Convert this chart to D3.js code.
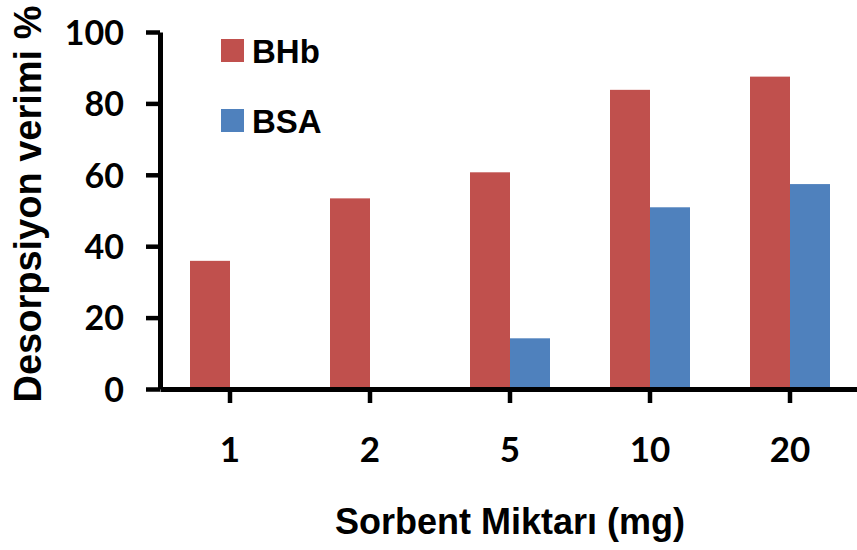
<!DOCTYPE html>
<html>
<head>
<meta charset="utf-8">
<script src="https://cdn.jsdelivr.net/npm/d3@7"></script>
<style>
  html, body { margin: 0; padding: 0; background: #fff; }
  svg { display: block; }
</style>
</head>
<body>
<svg id="chart" width="857" height="550"></svg>
<script>
// Sorbent amounts (mg) on the x axis
const categories = ["1", "2", "5", "10", "20"];
// Desorption yield (%) for each protein
const seriesNames = ["BHb", "BSA"];
const bhbValues = [35.9, 53.4, 60.7, 83.8, 87.5];
const bsaValues = [0, 0, 14.2, 50.9, 57.4];
const yTicks = [0, 20, 40, 60, 80, 100];
const colors = { BHb: "#C0504D", BSA: "#4F81BD" };

const svg = d3.select("#chart");

const x0 = d3.scaleBand()
  .domain(categories)
  .range([160, 860])
  .paddingInner(0.4286)
  .paddingOuter(0.2143);

const x1 = d3.scaleBand()
  .domain(seriesNames)
  .range([0, x0.bandwidth()]);

const y = d3.scaleLinear().domain([0, 100]).range([389, 32]);

const rows = categories.map((c, i) => ({
  cat: c,
  values: [
    { key: "BHb", value: bhbValues[i] },
    { key: "BSA", value: bsaValues[i] }
  ]
}));

// Bars
const groups = svg.append("g")
  .selectAll("g")
  .data(rows)
  .join("g")
  .attr("transform", d => `translate(${x0(d.cat)},0)`);

groups.selectAll("rect")
  .data(d => d.values)
  .join("rect")
  .attr("x", d => x1(d.key))
  .attr("width", x1.bandwidth())
  .attr("y", d => y(d.value))
  .attr("height", d => y(0) - y(d.value))
  .attr("fill", d => colors[d.key]);

// Y axis
const yAxis = svg.append("g")
  .attr("transform", "translate(160,0)")
  .call(d3.axisLeft(y).tickValues(yTicks).tickSize(14).tickSizeOuter(0).tickPadding(22));
yAxis.select(".domain").attr("stroke", "#000").attr("stroke-width", 5);
yAxis.selectAll(".tick line").attr("stroke", "#000").attr("stroke-width", 4.5);
yAxis.selectAll(".tick text")
  .attr("font-family", "Lato, 'Open Sans', sans-serif")
  .attr("font-weight", "bold")
  .attr("font-size", 34)
  .attr("fill", "#000")
  .attr("dy", "0.36em");

// X axis
const xAxis = svg.append("g")
  .attr("transform", `translate(0,${y(0)})`)
  .call(d3.axisBottom(x0).tickSize(14).tickSizeOuter(0).tickPadding(34));
xAxis.select(".domain").attr("stroke", "#000").attr("stroke-width", 5);
xAxis.selectAll(".tick line").attr("stroke", "#000").attr("stroke-width", 4.5);
xAxis.selectAll(".tick text")
  .attr("font-family", "Lato, 'Open Sans', sans-serif")
  .attr("font-weight", "bold")
  .attr("font-size", 35)
  .attr("fill", "#000")
  .attr("dy", "0.71em");

// Axis titles
svg.append("text")
  .attr("x", 510)
  .attr("y", 534)
  .attr("text-anchor", "middle")
  .attr("font-family", "'Liberation Sans', Arial, sans-serif")
  .attr("font-weight", "bold")
  .attr("font-size", 36)
  .attr("fill", "#000")
  .text("Sorbent Miktarı (mg)");

svg.append("text")
  .attr("transform", "translate(41,204) rotate(-90)")
  .attr("text-anchor", "middle")
  .attr("font-family", "'Liberation Sans', Arial, sans-serif")
  .attr("font-weight", "bold")
  .attr("font-size", 38)
  .attr("fill", "#000")
  .text("Desorpsiyon verimi %");

// Legend
const legend = svg.append("g")
  .selectAll("g")
  .data(seriesNames)
  .join("g")
  .attr("transform", (d, i) => `translate(221,${39 + i * 70})`);

legend.append("rect")
  .attr("width", 23)
  .attr("height", 23)
  .attr("fill", d => colors[d]);

legend.append("text")
  .attr("x", 31)
  .attr("y", 24)
  .attr("font-family", "'Liberation Sans', Arial, sans-serif")
  .attr("font-weight", "bold")
  .attr("font-size", 33)
  .attr("fill", "#000")
  .text(d => d);
</script>
</body>
</html>
